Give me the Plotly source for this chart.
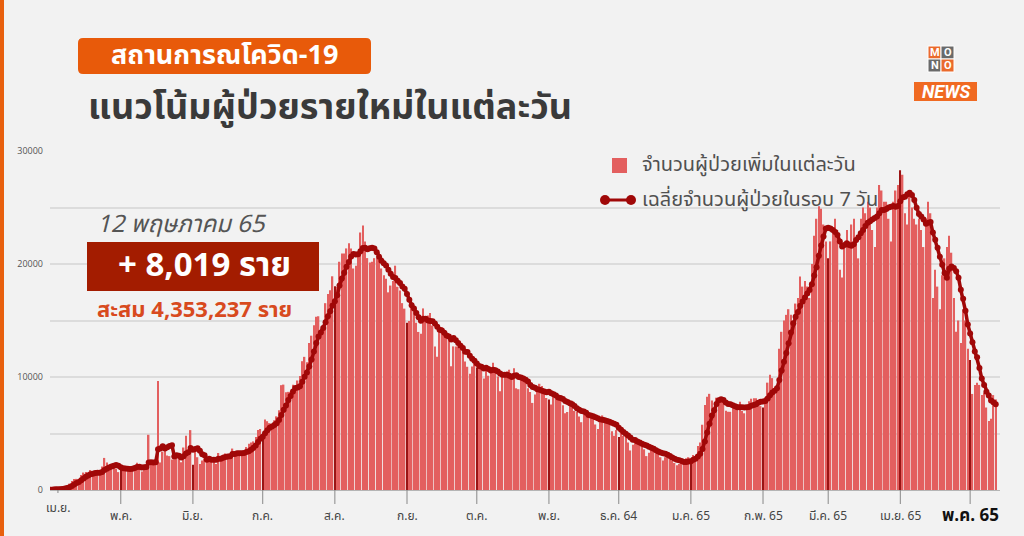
import pandas as pd
import plotly.graph_objects as go

# ---------------- data ----------------
apr21 = [26, 84, 89, 84, 54, 250, 334, 405, 559, 789, 967, 985, 965, 1335, 1543, 1582, 1547, 1767, 1390, 1443,
         1458, 1470, 2070, 2839, 2438, 2179, 2048, 2012, 1871, 1583]
may21 = [1891, 1940, 2041, 1763, 1911, 2112, 2044, 2419, 2101, 1630, 1919, 1983, 4887, 2256, 2234, 2302, 9635, 2438,
         3394, 3481, 3052, 3000, 2700, 2713, 3226, 3031, 2455, 3759, 4803, 3382, 5300]
jun21 = [2230, 3440, 2900, 2300, 2600, 2800, 2500, 2800, 2900, 2800, 2290, 3277, 2804, 3129, 3237, 3174, 3058, 3667,
         3309, 3129, 3175, 3227, 3300, 3800, 4100, 4200, 4300, 4700, 5300, 5400]
jul21 = [5000, 6230, 6087, 5916, 5420, 6166, 6519, 7058, 9276, 9326, 8656, 8685, 8685, 9317, 9186, 9692, 10082, 11397,
         11784, 11305, 13002, 13655, 14575, 15335, 15376, 14260, 14150, 16533, 17345, 17669, 18912]
aug21 = [18027, 17970, 20200, 20920, 20920, 21379, 21838, 21378, 19603, 19843, 21038, 22782, 23418, 22001, 20522,
         20128, 20200, 20515, 20500, 20571, 19603, 19014, 18702, 17491, 18091, 18501, 19851, 17984, 17654, 16536, 16050]
sep21 = [14802, 14956, 16536, 15942, 14802, 13988, 13821, 16070, 14943, 15452, 15669, 14555, 12709, 11786, 14176,
         14403, 14109, 14029, 13817, 10950, 12709, 12710, 12697, 12505, 12640, 11375, 10905, 10288, 10919, 11375]
oct21 = [10828, 11130, 10862, 9869, 10817, 10111, 10435, 11271, 10817, 10035, 8736, 10000, 10064, 10486, 10648,
         10029, 10780, 9000, 8918, 9900, 9800, 9800, 9000, 8675, 7706, 8452, 9000, 9400, 9200, 8600, 8140]
nov21 = [8000, 7574, 8400, 8584, 8000, 8267, 7500, 6800, 6904, 7700, 7900, 7000, 6900, 6500, 6000, 6700, 6800, 6600,
         6700, 6400, 5800, 5400, 6000, 6600, 6300, 6200, 6000, 5200, 4800, 5300]
dec21 = [4700, 5200, 4800, 4800, 4200, 3500, 4000, 4400, 4300, 4200, 4000, 3600, 3000, 3300, 3800, 3600, 3400, 3200,
         2900, 2600, 2900, 3200, 2800, 2600, 2400, 2200, 2300, 2400, 2600, 2800, 2900]
jan22 = [2600, 3091, 2927, 3899, 4200, 5775, 7526, 8263, 8511, 7926, 7133, 8167, 8077, 8158, 7793, 7016, 6929, 6919,
         7681, 7358, 7587, 7804, 7000, 6789, 7085, 7862, 8078, 8112, 8129, 7942, 7422]
feb22 = [7300, 8200, 9500, 10200, 9900, 8900, 9000, 12500, 14000, 15000, 15500, 16000, 15500, 14800, 16500, 17000,
         18900, 18000, 18500, 18000, 17000, 20000, 22500, 24000, 25100, 24900, 23500, 22000]
mar22 = [20500, 22000, 23000, 24000, 23000, 19500, 18800, 21500, 23000, 22000, 23500, 24000, 22000, 20500, 24000,
         25000, 24500, 25500, 25000, 23000, 21500, 25000, 27000, 26500, 25500, 25500, 24000, 22000, 25500, 26500, 27000]
apr22 = [28300, 27900, 24500, 23500, 26500, 25000, 24000, 23500, 24000, 23000, 21500, 24000, 25500, 24500, 17000,
         19500, 18000, 16000, 19000, 20500, 21500, 22500, 21000, 17000, 14000, 15000, 13000, 16000, 15000, 12500]
may22 = [11500, 8500, 9300, 9500, 9300, 8400, 8600, 7300, 6100, 6300, 8400, 8019]

start_date = "2021-04-01"
tick_dates = ["2021-04-04", "2021-05-01", "2021-06-01", "2021-07-01", "2021-08-01", "2021-09-01", "2021-10-01",
              "2021-11-01", "2021-12-01", "2022-01-01", "2022-02-01", "2022-03-01", "2022-04-01", "2022-05-01"]
tick_labels = ["เม.ย.", "พ.ค.", "มิ.ย.", "ก.ค.", "ส.ค.", "ก.ย.", "ต.ค.", "พ.ย.", "ธ.ค. 64", "ม.ค. 65", "ก.พ. 65",
               "มี.ค. 65", "เม.ย. 65", "พ.ค. 65"]
y_tick_values = [0, 10000, 20000, 30000]

title_tag = "สถานการณโควิด-19"
subtitle = "แนวโน้มผู้ป่วยรายใหม่ในแต่ละวัน"
legend_bar = "จำนวนผู้ป่วยเพิ่มในแต่ละวัน"
legend_line = "เฉลี่ยจำนวนผู้ป่วยในรอบ 7 วัน"
latest_date = "12 พฤษภาคม 65"
latest_new = "+ 8,019 ราย"
latest_total = "สะสม 4,353,237 ราย"

# ---------------- build ----------------
daily = apr21 + may21 + jun21 + jul21 + aug21 + sep21 + oct21 + nov21 + dec21 + jan22 + feb22 + mar22 + apr22 + may22
dates = pd.date_range(start_date, periods=len(daily), freq="D")
s = pd.Series(daily, index=dates)
avg7 = s.rolling(7, min_periods=1).mean()

BAR = "#e35f5f"
DARK_BAR = "#9a1414"
LINE = "#a00808"
BG = "#f2f2f2"
ORANGE = "#e8600e"
THAI = "Noto Sans Thai, Noto Sans, DejaVu Sans, sans-serif"

bar_colors = [DARK_BAR if d.day == 1 else BAR for d in dates]

fig = go.Figure()
fig.add_trace(go.Bar(x=dates, y=daily, marker=dict(color=bar_colors, line=dict(width=0)), showlegend=False))
fig.add_trace(go.Scatter(x=dates, y=avg7, mode="lines+markers", line=dict(color=LINE, width=3.5),
                         marker=dict(color=LINE, size=6), showlegend=False))

# plot-area geometry (pixels)
L, R, T, B = 50, 1000, 151, 490
W, H = R - L, B - T


def xp(px):
    return (px - L) / W


def yp(py):
    return (B - py) / H


shapes = []
annotations = []

# left orange strip
shapes.append(dict(type="rect", xref="paper", yref="paper", x0=xp(0), x1=xp(4), y0=yp(536), y1=yp(0),
                   fillcolor=ORANGE, line=dict(width=0), layer="below"))

# title tag (rounded)
x0, x1, y0, y1, r = xp(78), xp(371), yp(74), yp(38), 5
rx, ry = r / W, r / H
path = (f"M{x0+rx},{y0} L{x1-rx},{y0} Q{x1},{y0} {x1},{y0+ry} L{x1},{y1-ry} Q{x1},{y1} {x1-rx},{y1} "
        f"L{x0+rx},{y1} Q{x0},{y1} {x0},{y1-ry} L{x0},{y0+ry} Q{x0},{y0} {x0+rx},{y0} Z")
shapes.append(dict(type="path", xref="paper", yref="paper", path=path, fillcolor="#e85a0a", line=dict(width=0)))
annotations.append(dict(x=xp(224), y=yp(56), xref="paper", yref="paper", text=f"<b>{title_tag}</b>",
                        showarrow=False, font=dict(family=THAI, size=27, color="white"),
                        xanchor="center", yanchor="middle"))
annotations.append(dict(x=xp(86), y=yp(108), xref="paper", yref="paper", text=f"<b>{subtitle}</b>",
                        showarrow=False, font=dict(family=THAI, size=36, color="#3a3a3a"),
                        xanchor="left", yanchor="middle"))

# logo
logo_cells = [(928, 46, "M", "#ea6a2c"), (941, 46, "O", "#6a6a6a"), (928, 59, "N", "#6a6a6a"), (941, 59, "O", "#ea6a2c")]
for cx, cy, ch, col in logo_cells:
    shapes.append(dict(type="rect", xref="paper", yref="paper", x0=xp(cx), x1=xp(cx + 13), y0=yp(cy + 13), y1=yp(cy),
                       fillcolor=col, line=dict(color="white", width=1)))
    annotations.append(dict(x=xp(cx + 6.5), y=yp(cy + 6.5), xref="paper", yref="paper", text=f"<b>{ch}</b>",
                            showarrow=False, font=dict(family="Roboto", size=11, color="white"),
                            xanchor="center", yanchor="middle", borderpad=0))
shapes.append(dict(type="rect", xref="paper", yref="paper", x0=xp(914), x1=xp(977), y0=yp(101), y1=yp(82),
                   fillcolor="#f06a22", line=dict(width=0)))
annotations.append(dict(x=xp(945.5), y=yp(91.5), xref="paper", yref="paper", text="<b><i>NEWS</i></b>",
                        showarrow=False, font=dict(family="Roboto", size=18, color="white"),
                        xanchor="center", yanchor="middle"))

# legend
shapes.append(dict(type="rect", xref="paper", yref="paper", x0=xp(612), x1=xp(627), y0=yp(173), y1=yp(158),
                   fillcolor=BAR, line=dict(width=0)))
annotations.append(dict(x=xp(640), y=yp(165), xref="paper", yref="paper", text=legend_bar, showarrow=False,
                        font=dict(family=THAI, size=20, color="#505050"), xanchor="left", yanchor="middle"))
shapes.append(dict(type="line", xref="paper", yref="paper", x0=xp(605), x1=xp(631), y0=yp(200), y1=yp(200),
                   line=dict(color=LINE, width=3)))
for cx in (605, 631):
    shapes.append(dict(type="circle", xref="paper", yref="paper", x0=xp(cx - 5), x1=xp(cx + 5),
                       y0=yp(205), y1=yp(195), fillcolor=LINE, line=dict(width=0)))
annotations.append(dict(x=xp(640), y=yp(200), xref="paper", yref="paper", text=legend_line, showarrow=False,
                        font=dict(family=THAI, size=20, color="#505050"), xanchor="left", yanchor="middle"))

# latest figures
annotations.append(dict(x=xp(96), y=yp(225), xref="paper", yref="paper", text=f"<i>{latest_date}</i>",
                        showarrow=False, font=dict(family=THAI, size=24, color="#555555"),
                        xanchor="left", yanchor="middle", borderpad=0))
shapes.append(dict(type="rect", xref="paper", yref="paper", x0=xp(87), x1=xp(319), y0=yp(291), y1=yp(242),
                   fillcolor="#a31c00", line=dict(width=0)))
annotations.append(dict(x=xp(204), y=yp(266), xref="paper", yref="paper", text=f"<b>{latest_new}</b>",
                        showarrow=False, font=dict(family=THAI, size=33, color="white"),
                        xanchor="center", yanchor="middle", borderpad=0))
annotations.append(dict(x=xp(96), y=yp(310), xref="paper", yref="paper", text=f"<b>{latest_total}</b>",
                        showarrow=False, font=dict(family=THAI, size=22, color="#d84a1e"),
                        xanchor="left", yanchor="middle", borderpad=0))

# x tick labels
for i, (d, lab) in enumerate(zip(tick_dates, tick_labels)):
    last = i == len(tick_dates) - 1
    first = i == 0
    annotations.append(dict(x=d, y=yp(508 if first else 516), xref="x", yref="paper",
                            text=f"<b>{lab}</b>" if last else lab, showarrow=False,
                            font=dict(family=THAI, size=17 if last else 12, color="#111111" if last else "#444444"),
                            xanchor="center", yanchor="middle"))
    shapes.append(dict(type="line", xref="x", yref="paper", x0=d, x1=d, y0=yp(490), y1=yp(493 if first else 504),
                       line=dict(color="#888888", width=1)))

range_start = pd.Timestamp(start_date) - pd.Timedelta(hours=10)
range_end = range_start + pd.Timedelta(days=W / 2.327)

fig.update_layout(
    width=1024, height=536,
    margin=dict(l=L, r=1024 - R, t=T, b=536 - B),
    paper_bgcolor=BG, plot_bgcolor=BG,
    bargap=0.38,
    shapes=shapes, annotations=annotations,
    xaxis=dict(type="date", range=[range_start, range_end], showticklabels=False, ticks="",
               showgrid=False, showline=True, linecolor="#b5b5b5", linewidth=1, zeroline=False),
    yaxis=dict(range=[0, 30000], tickvals=y_tick_values, ticktext=[str(v) for v in y_tick_values],
               showgrid=True, gridcolor="#dcdcdc", gridwidth=1.5, zeroline=False,
               minor=dict(dtick=5000, tick0=0, showgrid=True, gridcolor="#dcdcdc", gridwidth=1.5),
               tickfont=dict(family="Open Sans", size=9, color="#555555"), ticks="", ticklabelstandoff=6),
    font=dict(family=THAI),
)

fig.write_html("out.html")
